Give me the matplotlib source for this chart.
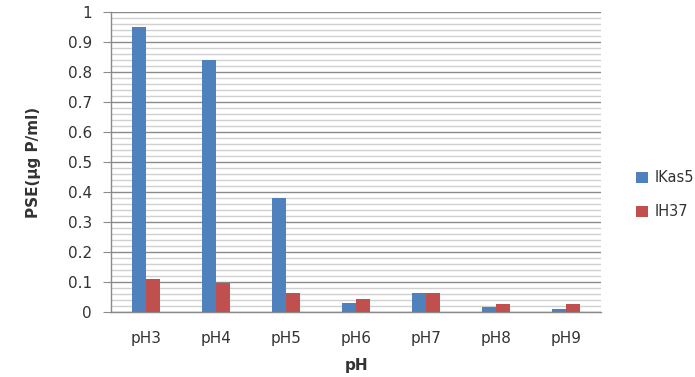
import numpy as np
import matplotlib.pyplot as plt
from matplotlib.ticker import MultipleLocator

# PSE per pH for the two isolates
categories = ['pH3', 'pH4', 'pH5', 'pH6', 'pH7', 'pH8', 'pH9']
ikas5 = [0.95, 0.84, 0.38, 0.03, 0.062, 0.017, 0.01]
ih37 = [0.11, 0.097, 0.062, 0.043, 0.062, 0.026, 0.026]
series_names = ['IKas5', 'IH37']

blue = '#4F81BD'
red = '#C0504D'
txt = '#333333'

fig = plt.figure(figsize=(6.95, 3.77), dpi=100)
ax = fig.add_axes([0.16, 0.1724, 0.705, 0.7958])

x = np.arange(len(categories))
w = 0.196
ax.bar(x - w / 2, ikas5, w, color=blue, label=series_names[0], zorder=3)
ax.bar(x + w / 2, ih37, w, color=red, label=series_names[1], zorder=3)

ax.set_xlim(-0.5, len(categories) - 0.5)
ax.set_ylim(0, 1)
ax.yaxis.set_minor_locator(MultipleLocator(0.02))
ax.set_yticks([i / 10 for i in range(11)])
ax.set_yticklabels(['0'] + ['%.1f' % (i / 10) for i in range(1, 10)] + ['1'])

# grid: dark major lines, light minor lines
ax.grid(which='major', axis='y', color='#8a8a8a', linewidth=1.0, zorder=1)
ax.grid(which='minor', axis='y', color='#d0d0d0', linewidth=1.0, zorder=0)
ax.set_axisbelow(True)

for s in ['top', 'right']:
    ax.spines[s].set_visible(False)
for s in ['left', 'bottom']:
    ax.spines[s].set_color('#8a8a8a')
    ax.spines[s].set_linewidth(1.0)

ax.set_xticks(x)
ax.set_xticklabels(categories)
ax.tick_params(axis='x', length=0, pad=14, labelsize=11, labelcolor=txt)
ax.tick_params(axis='y', which='major', length=6, color='#8a8a8a', pad=8,
               labelsize=11, labelcolor=txt)
ax.tick_params(axis='y', which='minor', length=0)

ax.set_xlabel('pH', fontsize=11, fontweight='bold', color=txt, labelpad=8)
ax.set_ylabel('PSE(µg P/ml)', fontsize=11, fontweight='bold', color=txt, labelpad=19)

fig.legend(loc='center left', bbox_to_anchor=(0.905, 0.483), frameon=False,
           handlelength=0.8, handleheight=0.8, handletextpad=0.45,
           labelspacing=1.3, fontsize=10.5, labelcolor=txt, borderpad=0)

fig.savefig('out.png', dpi=100)
